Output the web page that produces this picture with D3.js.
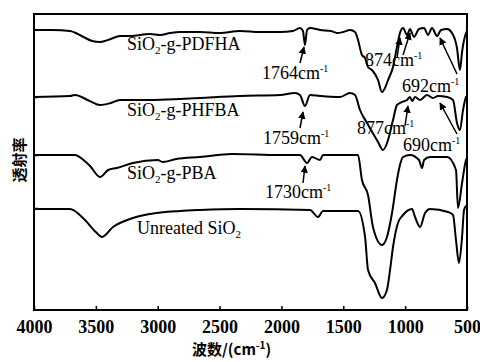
<!DOCTYPE html>
<html>
<head>
<meta charset="utf-8">
<script src="https://cdn.jsdelivr.net/npm/d3@7"></script>
<style>
  body { margin: 0; background: #fff; }
  svg { display: block; }
  .lbl { font-family: "Liberation Serif", serif; font-size: 18px; fill: #000; }
  .cjk { font-family: "Noto Sans CJK SC", sans-serif; font-weight: bold; font-size: 15px; fill: #000; }
</style>
</head>
<body>
<svg id="chart" width="480" height="362"></svg>
<script>
// wavenumber (cm-1) ticks
var xTicks = [4000, 3500, 3000, 2500, 2000, 1500, 1000, 500];
var yTicks = [102, 155, 213];

// spectra: [wavenumber, transmittance (a.u., stacked)]
var pdfha = [[4000,280],[3850,280],[3709,279],[3600,273],[3530,269],[3466,268],[3380,271],[3305,274],
  [3224,274],[3062,276],[2981,275],[2900,277],[2820,278],[2658,278],[2500,277],[2335,279],[2173,278],
  [2011,278],[1906,279],[1850,282],[1826,279],[1810,265],[1793,280],[1769,282],[1688,280],[1600,279],
  [1551,277],[1500,278],[1446,280],[1405,278],[1381,270],[1349,255],[1324,252],[1300,243],[1268,240],
  [1219,230],[1187,218],[1163,222],[1138,230],[1098,243],[1066,263],[1042,277],[1017,282],[985,275],
  [961,281],[928,273],[888,281],[847,282],[815,275],[783,282],[742,274],[710,280],[661,281],[621,277],
  [581,262],[557,240],[540,258],[508,277],[500,279]];
var phfba = [[4000,213],[3709,214],[3669,215],[3550,209],[3466,205],[3380,207],[3305,210],[3062,210],
  [2820,211],[2658,212],[2335,214],[2011,215],[1890,217],[1850,215],[1810,204],[1769,215],[1688,214],
  [1551,213],[1526,213],[1446,217],[1405,215],[1365,200],[1308,187],[1219,168],[1179,160],[1138,170],
  [1098,190],[1066,205],[1025,208],[985,210],[961,213],[944,209],[920,213],[880,210],[823,215],[775,212],
  [734,214],[661,213],[613,210],[581,187],[557,180],[532,200],[508,213],[500,214]];
var pba = [[4000,155],[3669,155],[3600,150],[3547,144],[3466,133],[3400,140],[3330,142],[3200,147],
  [3000,150],[2960,148],[2850,151],[2658,153],[2400,156],[2011,155],[1850,155],[1793,147],[1753,153],
  [1688,150],[1664,155],[1500,155],[1381,155],[1349,130],[1300,115],[1260,83],[1187,65],[1147,73],
  [1106,97],[1066,130],[1042,145],[1017,153],[961,155],[888,150],[864,142],[847,150],[799,153],
  [661,153],[589,140],[573,102],[540,127],[508,150],[500,152]];
var bare = [[4000,101],[3709,101],[3604,92],[3500,78],[3450,73],[3361,83],[3200,92],[3062,96],
  [2820,99],[2658,100],[2335,101],[1769,100],[1704,93],[1664,99],[1381,99],[1324,73],[1300,40],
  [1244,27],[1187,12],[1147,20],[1122,40],[1098,63],[1058,87],[1017,95],[944,101],[920,93],[880,83],
  [839,97],[799,101],[653,98],[613,95],[589,70],[565,47],[540,73],[524,100],[500,105]];

var svg = d3.select('#chart');
var x = d3.scaleLinear().domain([4000, 500]).range([34, 467]);
var y = d3.scaleLinear().domain([0, 296]).range([310, 14]);

svg.append('defs').append('marker')
  .attr('id', 'ah').attr('viewBox', '0 -5 10 10')
  .attr('refX', 9).attr('refY', 0)
  .attr('markerWidth', 5).attr('markerHeight', 5)
  .attr('orient', 'auto')
  .append('path').attr('d', 'M0,-5L10,0L0,5Z').attr('fill', '#000');

// frame
svg.append('rect').attr('x', 34).attr('y', 14).attr('width', 433).attr('height', 296)
  .attr('fill', 'none').attr('stroke', '#000').attr('stroke-width', 2);

var xAxis = svg.append('g').attr('transform', 'translate(0,310)')
  .call(d3.axisBottom(x).tickValues(xTicks).tickSizeInner(-4).tickSizeOuter(0).tickPadding(10)
    .tickFormat(d3.format('d')));
xAxis.select('.domain').remove();
xAxis.selectAll('line').attr('stroke-width', 1.5);
xAxis.selectAll('text')
  .style('font-family', '"Liberation Serif", serif')
  .style('font-weight', 'bold')
  .style('font-size', '18px');

var yAxis = svg.append('g').attr('transform', 'translate(34,0)')
  .call(d3.axisLeft(y).tickValues(yTicks).tickSizeInner(-4).tickSizeOuter(0).tickFormat(''));
yAxis.select('.domain').remove();
yAxis.selectAll('line').attr('stroke-width', 1.5);

var line = d3.line().x(function(d) { return x(d[0]); }).y(function(d) { return y(d[1]); })
  .curve(d3.curveMonotoneX);

[pdfha, phfba, pba, bare].forEach(function(s) {
  svg.append('path').datum(s).attr('d', line)
    .attr('fill', 'none').attr('stroke', '#000').attr('stroke-width', 2).attr('stroke-linejoin', 'round');
});

// curve names
function sio2Label(tx, ty, suffix) {
  var t = svg.append('text').attr('class', 'lbl').attr('x', tx).attr('y', ty);
  t.append('tspan').text('SiO');
  t.append('tspan').attr('dy', 4).attr('font-size', 11).text('2');
  t.append('tspan').attr('dy', -4).text(suffix);
}
sio2Label(127, 50, '-g-PDFHA');
sio2Label(127, 116, '-g-PHFBA');
sio2Label(127, 179, '-g-PBA');
var u = svg.append('text').attr('class', 'lbl').attr('x', 137).attr('y', 234);
u.append('tspan').text('Unreated SiO');
u.append('tspan').attr('dy', 4).attr('font-size', 11).text('2');

// peak annotations
function peak(tx, ty, num) {
  var t = svg.append('text').attr('class', 'lbl').attr('x', tx).attr('y', ty);
  t.append('tspan').text(num + 'cm');
  t.append('tspan').attr('dy', -7).attr('font-size', 10).text('-1');
}
function arrow(x1, y1, x2, y2) {
  svg.append('line').attr('x1', x1).attr('y1', y1).attr('x2', x2).attr('y2', y2)
    .attr('stroke', '#000').attr('stroke-width', 1.5).attr('marker-end', 'url(#ah)');
}
peak(262, 79, '1764'); arrow(300, 63, 304, 47);
peak(365, 66, '874'); arrow(403, 55, 410, 33); arrow(397, 58, 400, 38);
peak(402, 92, '692'); arrow(457, 74, 440, 38);
peak(263, 144, '1759'); arrow(300, 128, 303, 112);
peak(357, 134, '877'); arrow(405, 126, 408, 106);
peak(403, 151, '690'); arrow(457, 134, 440, 103);
peak(265, 198, '1730'); arrow(303, 183, 305, 166);

// axis titles
var xt = svg.append('text').attr('class', 'cjk').attr('x', 192).attr('y', 355);
xt.append('tspan').text('波数/(cm');
xt.append('tspan').attr('dy', -6).attr('font-size', 10).text('-1');
xt.append('tspan').attr('dy', 6).text(')');

svg.append('text').attr('class', 'cjk').attr('text-anchor', 'middle')
  .attr('transform', 'translate(25,160) rotate(-90)').text('透射率');
</script>
</body>
</html>
